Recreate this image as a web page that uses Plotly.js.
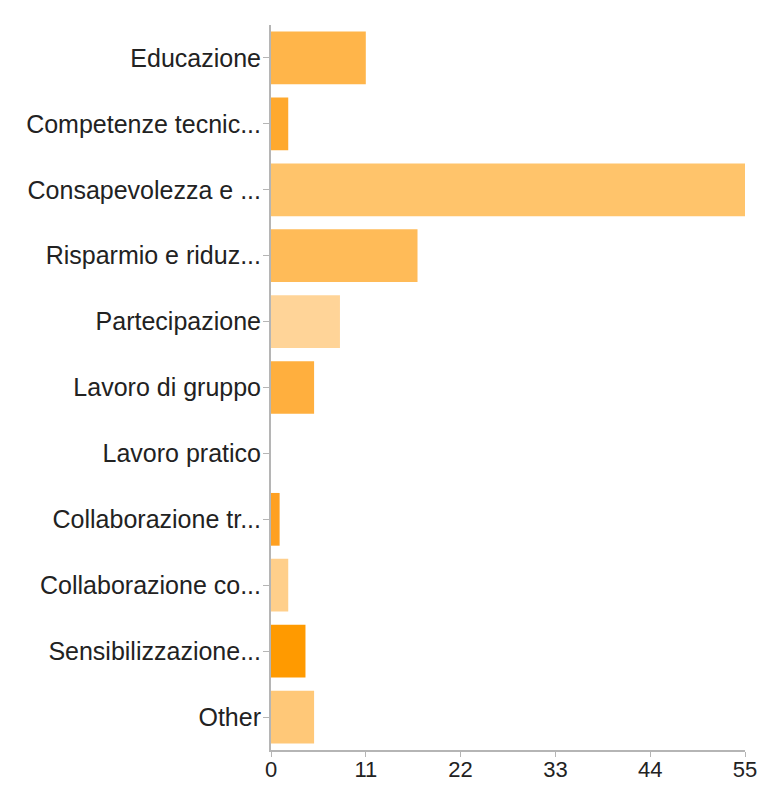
<!DOCTYPE html>
<html>
<head>
<meta charset="utf-8">
<script src="https://cdn.plot.ly/plotly-3.0.1.min.js"></script>
<style>html,body{margin:0;padding:0;background:#fff;}#chart{width:765px;height:786px;}</style>
</head>
<body>
<div id="chart"></div>
<script>
const categories = [
  "Educazione",
  "Competenze tecnic...",
  "Consapevolezza e ...",
  "Risparmio e riduz...",
  "Partecipazione",
  "Lavoro di gruppo",
  "Lavoro pratico",
  "Collaborazione tr...",
  "Collaborazione co...",
  "Sensibilizzazione...",
  "Other"
];
const values = [11, 2, 55, 17, 8, 5, 0, 1, 2, 4, 5];
const barColors = [
  "#FFB54A", "#FFA92E", "#FFC46B", "#FFBB58", "#FFD498", "#FFAF3E",
  "#FFB040", "#FFA021", "#FFCF8B", "#FF9A00", "#FFC878"
];
const xTicks = [0, 11, 22, 33, 44, 55];

const trace = {
  type: "bar",
  orientation: "h",
  y: categories,
  x: values,
  marker: { color: barColors, line: { width: 0 } },
  hoverinfo: "x+y"
};

const layout = {
  width: 765,
  height: 786,
  margin: { l: 271, r: 20, t: 25, b: 36 },
  paper_bgcolor: "#fff",
  plot_bgcolor: "#fff",
  showlegend: false,
  bargap: 0.2,
  font: { family: "Liberation Sans, Arial, sans-serif", size: 25, color: "#222" },
  xaxis: {
    range: [0, 55],
    tickvals: xTicks,
    ticktext: xTicks.map(String),
    showgrid: false,
    zeroline: false,
    showline: true,
    linecolor: "#b5b5b5",
    linewidth: 2,
    ticks: "outside",
    ticklen: 5,
    tickcolor: "#b5b5b5",
    ticklabelstandoff: -6,
    tickfont: { size: 22, color: "#222" },
    fixedrange: true
  },
  yaxis: {
    type: "category",
    categoryorder: "array",
    categoryarray: categories,
    autorange: "reversed",
    showgrid: false,
    zeroline: false,
    showline: true,
    linecolor: "#b5b5b5",
    linewidth: 2,
    ticks: "outside",
    ticklen: 6,
    tickcolor: "#b5b5b5",
    ticklabelstandoff: -3,
    tickfont: { size: 25, color: "#222" },
    fixedrange: true
  }
};

Plotly.newPlot("chart", [trace], layout, { displayModeBar: false, staticPlot: true });
</script>
</body>
</html>
